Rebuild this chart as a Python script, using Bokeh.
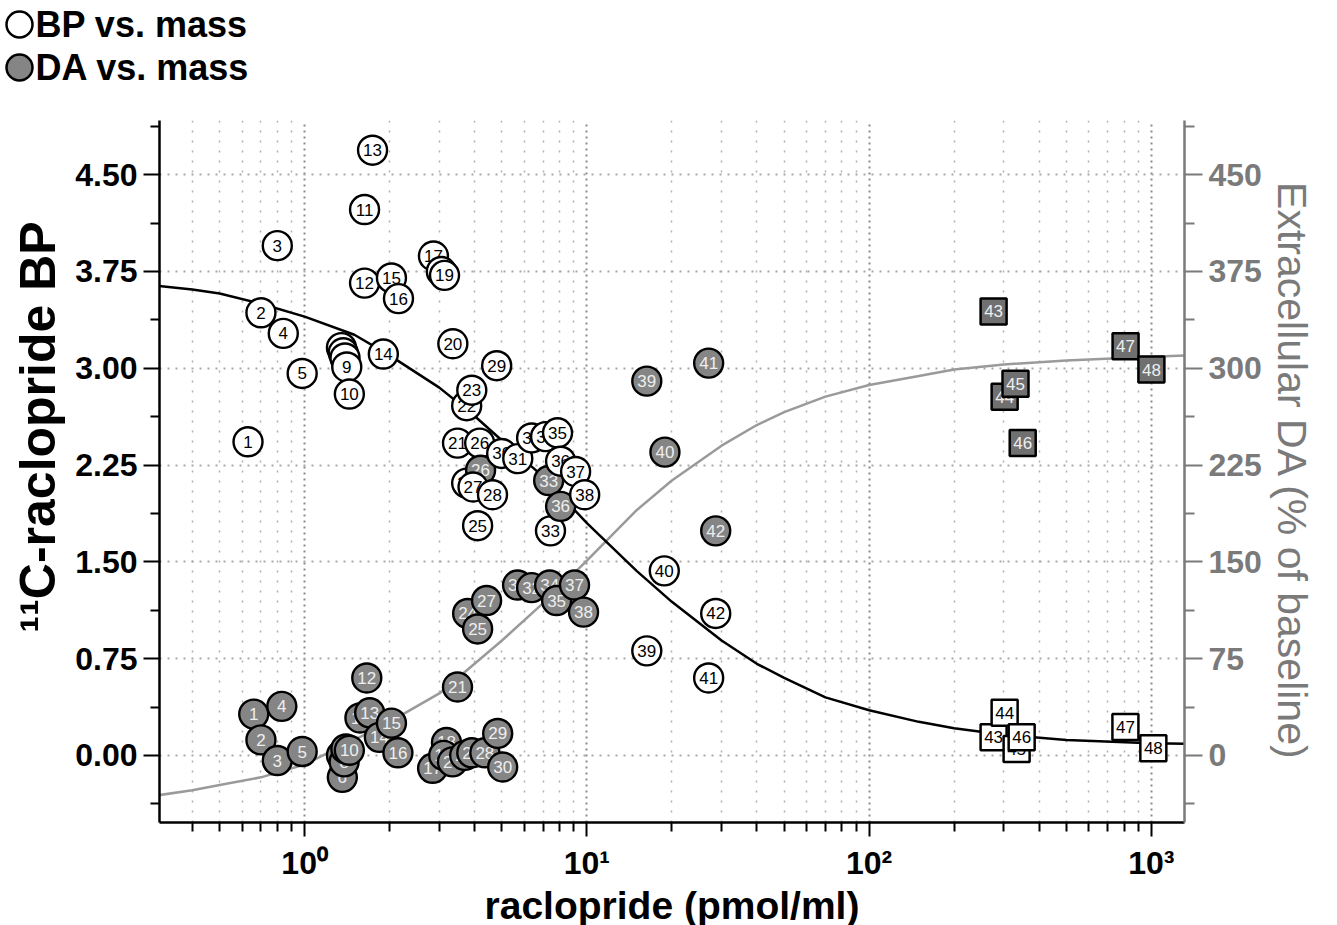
from bokeh.plotting import figure
from bokeh.layouts import column
from bokeh.models import (Range1d, LinearAxis, FixedTicker, Title,
                          NumeralTickFormatter, CustomJSTickFormatter)
from bokeh.embed import file_html
from bokeh.resources import INLINE
from bokeh.core.properties import value

# ---------------- data ----------------
subject_ids = [str(i) for i in range(1, 43)]
bp_conc = [0.63, 0.70, 0.80, 0.84, 0.98, 1.35, 1.37, 1.39, 1.41, 1.44,
           1.63, 1.63, 1.74, 1.90, 2.03, 2.15, 2.86, 3.05, 3.13, 3.35,
           3.48, 3.75, 3.91, 3.75, 4.10, 4.17, 3.95, 4.63, 4.79, 4.99,
           5.69, 6.37, 7.43, 7.14, 7.87, 8.07, 9.12, 9.82, 16.3, 18.8, 27.0, 28.6]
bp_values = [2.43, 3.43, 3.95, 3.27, 2.96, 3.16, 3.12, 3.08, 3.01, 2.80,
             4.23, 3.66, 4.69, 3.11, 3.70, 3.54, 3.87, 3.75, 3.72, 3.19,
             2.42, 2.71, 2.83, 2.11, 1.78, 2.42, 2.08, 2.02, 3.02, 2.34,
             2.30, 2.46, 1.74, 2.47, 2.50, 2.28, 2.20, 2.02, 0.81, 1.43, 0.60, 1.10]
da_conc = [0.66, 0.70, 0.80, 0.83, 0.98, 1.36, 1.35, 1.38, 1.40, 1.44,
           1.57, 1.66, 1.70, 1.84, 2.03, 2.14, 2.84, 3.18, 3.11, 3.34,
           3.48, 3.69, 3.91, 3.78, 4.10, 4.20, 4.41, 4.35, 4.83, 5.03,
           5.68, 6.37, 7.32, 7.38, 7.81, 8.07, 9.04, 9.73, 16.3, 18.9, 27.0, 28.6]
da_values = [32, 12, -4, 38, 3, -17, 0, -5, 5, 4,
             29, 60, 33, 14, 25, 2, -10, 10, 0, -5,
             53, 0, 2, 110, 98, 221, 120, 2, 17, -9,
             132, 130, 213, 132, 120, 193, 132, 111, 290, 235, 304, 174]

high_ids = ["43", "44", "45", "46", "47", "48"]
high_bp_conc = [276, 302, 333, 347, 809, 1016]
high_bp_values = [0.14, 0.33, 0.05, 0.14, 0.22, 0.055]
high_da_conc = [276, 302, 330, 350, 810, 1000]
high_da_values = [344, 278, 288, 242, 317, 299]

curve_x = [0.30, 0.4, 0.5, 0.7, 1.0, 1.5, 2.0, 3.0, 4.0, 5.0, 7.0, 10, 15, 20,
           30, 40, 50, 70, 100, 150, 200, 300, 500, 1000, 1320]
curve_bp = [3.64, 3.61, 3.58, 3.50, 3.40, 3.26, 3.10, 2.85, 2.63, 2.44, 2.16, 1.80,
            1.43, 1.19, 0.89, 0.71, 0.60, 0.45, 0.35, 0.26, 0.21, 0.16, 0.12, 0.095, 0.09]
curve_da = [-31, -27, -23, -17, -7, 12, 26, 48, 71, 89, 118, 151, 190, 213,
            240, 256, 266, 278, 287, 294, 299, 303, 306, 309, 310]

legend_labels = ["BP vs. mass", "DA vs. mass"]

x_major = [1, 10, 100, 1000]
x_minor = [0.4, 0.5, 0.6, 0.7, 0.8, 0.9, 2, 3, 4, 5, 6, 7, 8, 9,
           20, 30, 40, 50, 60, 70, 80, 90, 200, 300, 400, 500, 600, 700, 800, 900]
bp_ticks = [0, 0.75, 1.5, 2.25, 3.0, 3.75, 4.5]
bp_minor = [-0.375, 0.375, 1.125, 1.875, 2.625, 3.375, 4.125, 4.875]
da_ticks = [0, 75, 150, 225, 300, 375, 450]
da_minor = [-37.5, 37.5, 112.5, 187.5, 262.5, 337.5, 412.5, 487.5]

# ---------------- styles ----------------
FONT = "Liberation Sans"
GRAY = "#7a7a7a"
DA_FILL = "#858585"
SQ_FILL = "#707070"
W = 1320
LEG_H = 108

# ---------------- legend strip (above the plot) ----------------
leg = figure(width=W, height=LEG_H, x_range=Range1d(0, W), y_range=Range1d(LEG_H, 0),
             min_border=0, output_backend="svg", toolbar_location=None,
             outline_line_color=None, background_fill_color="white",
             border_fill_color="white")
leg.frame_align = False
leg.axis.visible = False
leg.grid.visible = False
leg_x = [19, 19]
leg_y = [24, 67]
leg.scatter([leg_x[0]], [leg_y[0]], marker="circle", size=26,
            fill_color="white", line_color="black", line_width=2.5)
leg.scatter([leg_x[1]], [leg_y[1]], marker="circle", size=26,
            fill_color=DA_FILL, line_color="black", line_width=2.5)
leg.text([x + 16 for x in leg_x], leg_y, text=legend_labels, text_font=value(FONT),
         text_font_style="bold", text_font_size="36px", text_baseline="middle",
         text_align="left", text_color="black")

# ---------------- main plot ----------------
p = figure(x_axis_type="log", x_range=Range1d(0.306, 1310), y_range=Range1d(-0.52, 4.92),
           frame_width=1025, frame_height=702,
           min_border_left=155, min_border_right=140, min_border_top=12, min_border_bottom=91,
           output_backend="svg", toolbar_location=None,
           background_fill_color="white", border_fill_color="white", outline_line_color=None)
p.frame_align = False
p.extra_y_ranges = {"da": Range1d(-52, 492)}

# x axis
xa = p.xaxis[0]
xa.ticker = FixedTicker(ticks=x_major, minor_ticks=x_minor)
xa.formatter = CustomJSTickFormatter(code="""
const m = {1: "10\u2070", 10: "10\u00b9", 100: "10\u00b2", 1000: "10\u00b3"};
return m[Math.round(tick)] || "";
""")
xa.axis_label = "raclopride (pmol/ml)"
xa.axis_label_text_font = FONT
xa.axis_label_text_font_style = "bold"
xa.axis_label_text_font_size = "39px"
xa.axis_label_text_color = "black"
xa.axis_label_standoff = 0
xa.major_label_text_font = FONT
xa.major_label_text_font_style = "bold"
xa.major_label_text_font_size = "32px"
xa.major_label_text_color = "black"
xa.major_label_standoff = 8
xa.axis_line_width = 2.5
xa.major_tick_line_width = 2
xa.minor_tick_line_width = 2
xa.major_tick_out = 14
xa.major_tick_in = 0
xa.minor_tick_out = 9
xa.minor_tick_in = 0

# left axis (its title is placed as a side title so it can sit where the original does)
ya = p.yaxis[0]
ya.ticker = FixedTicker(ticks=bp_ticks, minor_ticks=bp_minor)
ya.formatter = NumeralTickFormatter(format="0.00")
ya.major_label_text_font = FONT
ya.major_label_text_font_style = "bold"
ya.major_label_text_font_size = "32px"
ya.major_label_text_color = "black"
ya.major_label_standoff = 6
ya.axis_line_width = 2.5
ya.major_tick_line_width = 2
ya.minor_tick_line_width = 2
ya.major_tick_out = 16
ya.major_tick_in = 0
ya.minor_tick_out = 9
ya.minor_tick_in = 0
p.add_layout(Title(text="\u00b9\u00b9C-raclopride BP", align="left", offset=190,
                   text_font=FONT, text_font_style="bold", text_font_size="50px",
                   text_color="black", standoff=14), "left")

# right axis
ra = LinearAxis(y_range_name="da", ticker=FixedTicker(ticks=da_ticks, minor_ticks=da_minor))
ra.axis_label = "Extracellular DA (% of baseline)"
ra.axis_label_text_font = FONT
ra.axis_label_text_font_style = "normal"
ra.axis_label_text_font_size = "41px"
ra.axis_label_text_color = GRAY
ra.axis_label_standoff = 4
ra.major_label_text_font = FONT
ra.major_label_text_font_style = "bold"
ra.major_label_text_font_size = "32px"
ra.major_label_text_color = GRAY
ra.major_label_standoff = 6
ra.axis_line_color = GRAY
ra.axis_line_width = 2.5
ra.major_tick_line_color = GRAY
ra.minor_tick_line_color = GRAY
ra.major_tick_line_width = 2
ra.minor_tick_line_width = 2
ra.major_tick_out = 18
ra.major_tick_in = 0
ra.minor_tick_out = 10
ra.minor_tick_in = 0
p.add_layout(ra, "right")

# grids
p.xgrid.grid_line_color = "#8a8a8a"
p.xgrid.grid_line_dash = "2 4"
p.xgrid.grid_line_width = 2
p.xgrid.minor_grid_line_color = "#b0b0b0"
p.xgrid.minor_grid_line_dash = "2 8"
p.xgrid.minor_grid_line_width = 1.5
p.ygrid.grid_line_color = "#a8a8a8"
p.ygrid.grid_line_dash = "2 6"
p.ygrid.grid_line_width = 1.8

# curves
p.line(curve_x, curve_da, y_range_name="da", line_color="#9a9a9a", line_width=2.5)
p.line(curve_x, curve_bp, line_color="black", line_width=2.5)

# points (each subject drawn in order so later ones cover earlier ones)
txt = dict(text_align="center", text_baseline="middle", text_font=value(FONT),
           text_font_size="17px")
for i in range(len(subject_ids)):
    p.scatter([bp_conc[i]], [bp_values[i]], marker="circle", size=29,
              fill_color="white", line_color="black", line_width=2.4)
    p.text([bp_conc[i]], [bp_values[i]], text=[subject_ids[i]], text_color="black", **txt)
    p.scatter([da_conc[i]], [da_values[i]], y_range_name="da", marker="circle", size=29,
              fill_color=DA_FILL, line_color="black", line_width=2.4)
    p.text([da_conc[i]], [da_values[i]], y_range_name="da", text=[subject_ids[i]],
           text_color="#eeeeee", **txt)

for i in range(len(high_ids)):
    p.scatter([high_bp_conc[i]], [high_bp_values[i]], marker="square", size=26,
              fill_color="white", line_color="black", line_width=2.5)
    p.text([high_bp_conc[i]], [high_bp_values[i]], text=[high_ids[i]], text_color="black", **txt)
    p.scatter([high_da_conc[i]], [high_da_values[i]], y_range_name="da", marker="square", size=26,
              fill_color=SQ_FILL, line_color="black", line_width=2.5)
    p.text([high_da_conc[i]], [high_da_values[i]], y_range_name="da", text=[high_ids[i]],
           text_color="#eeeeee", **txt)

layout = column(leg, p, spacing=0)
open("out.html", "w").write(file_html(layout, INLINE))
